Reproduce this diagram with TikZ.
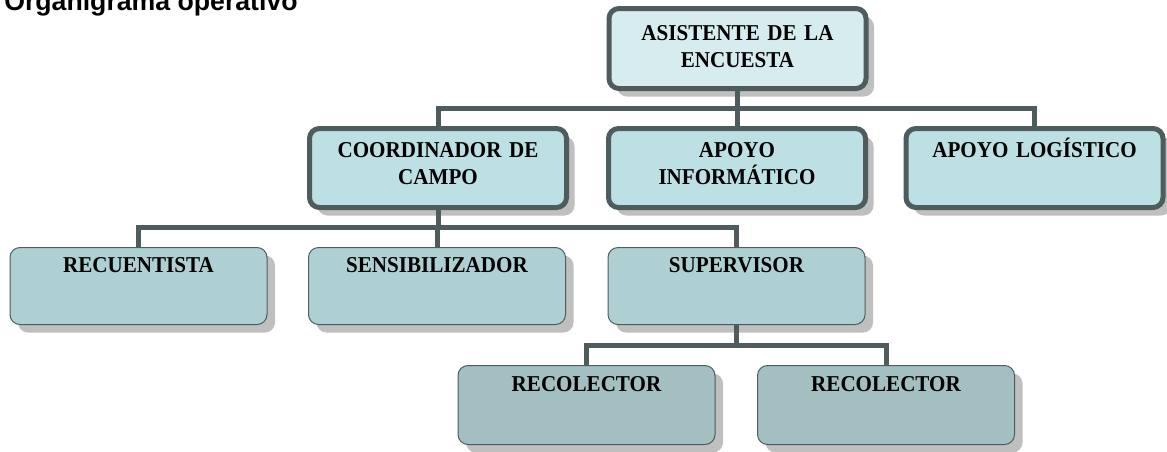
\documentclass[tikz,border=0pt]{standalone}
\usepackage{fontspec}
\setmainfont[FakeStretch=0.93]{Liberation Serif}
\newfontfamily\titulo{Liberation Sans}
\usetikzlibrary{shadows}
\definecolor{borde}{HTML}{4E5C5D}
\definecolor{nivela}{HTML}{D7ECEF}
\definecolor{nivelb}{HTML}{BCE0E4}
\definecolor{nivelc}{HTML}{AFD0D3}
\definecolor{niveld}{HTML}{A3BFC1}
\begin{document}
\begin{tikzpicture}[x=0.75pt, y=-0.75pt, font=\bfseries\fontsize{17}{20.25}\selectfont, line join=miter,
		caja/.style={rectangle, rounded corners=7.5pt, draw=borde, inner sep=0pt, text width=192.75pt, align=center,
			drop shadow={shadow xshift=6pt, shadow yshift=-6pt, fill=black!25, opacity=1}},
		gruesa/.style={caja, line width=3.75pt},
		fina/.style={caja, line width=0.75pt},
		conector/.style={draw=borde, line width=3.75pt}]
		\useasboundingbox (0,0) rectangle (1167,451);
		\node[anchor=base west, inner sep=0pt, font=\titulo\bfseries\fontsize{20}{24}\selectfont] (tit) at (4,10.5) {Organigrama operativo};
		% primer nivel
		\node[gruesa, fill=nivela, text height=24pt, text depth=36pt] (asis) at (737.5,48.5) {ASISTENTE DE LA\\ ENCUESTA};
		% segundo nivel
		\node[gruesa, fill=nivelb, text height=21.75pt, text depth=37.5pt] (coord) at (438,168) {COORDINADOR DE\\ CAMPO};
		\node[gruesa, fill=nivelb, text height=21.75pt, text depth=37.5pt] (infor) at (737,168) {APOYO\\ INFORMÁTICO};
		\node[gruesa, fill=nivelb, text height=21.75pt, text depth=37.5pt] (logis) at (1034.5,168) {APOYO LOGÍSTICO};
		% tercer nivel
		\node[fina, fill=nivelc, text height=18.75pt, text depth=39pt] (recu) at (138.5,286) {RECUENTISTA};
		\node[fina, fill=nivelc, text height=18.75pt, text depth=39pt] (sensi) at (437,286) {SENSIBILIZADOR};
		\node[fina, fill=nivelc, text height=18.75pt, text depth=39pt] (super) at (736.5,286) {SUPERVISOR};
		% cuarto nivel
		\node[fina, fill=niveld, text height=19.5pt, text depth=39.75pt] (reco1) at (586.5,405) {RECOLECTOR};
		\node[fina, fill=niveld, text height=19.5pt, text depth=39.75pt] (reco2) at (886,405) {RECOLECTOR};
		% conectores
		\draw[conector] (asis.south) -- (asis.south |- 0,108);
		\draw[conector] (coord.north) |- (logis.north |- 0,108) -- (logis.north);
		\draw[conector] (infor.north) -- (infor.north |- 0,108);
		\draw[conector] (coord.south) -- (coord.south |- 0,227);
		\draw[conector] (recu.north) |- (super.north |- 0,227) -- (super.north);
		\draw[conector] (sensi.north) -- (sensi.north |- 0,227);
		\draw[conector] (super.south) -- (super.south |- 0,345);
		\draw[conector] (reco1.north) |- (reco2.north |- 0,345) -- (reco2.north);
	\end{tikzpicture}
\end{document}
